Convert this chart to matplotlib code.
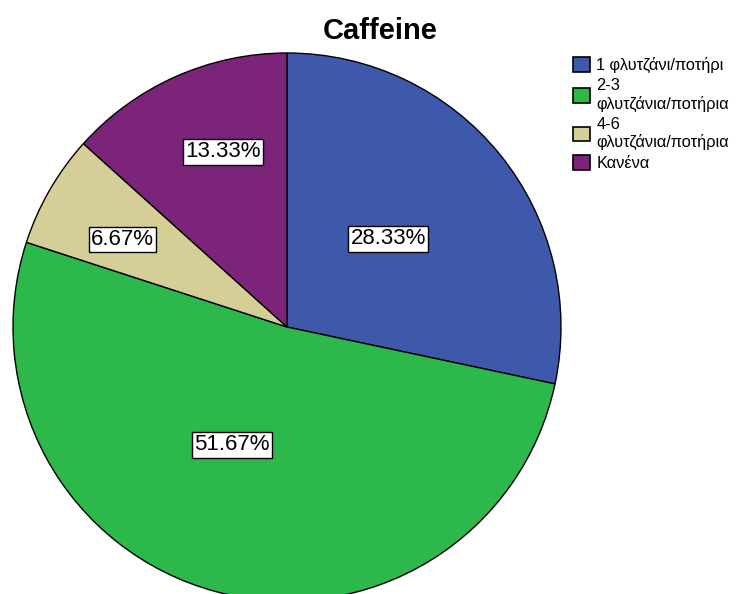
import numpy as np
import matplotlib.pyplot as plt
from matplotlib.patches import Patch

plt.rcParams['font.family'] = ['Liberation Sans', 'DejaVu Sans']

labels = ['1 φλυτζάνι/ποτήρι', '2-3\nφλυτζάνια/ποτήρια', '4-6\nφλυτζάνια/ποτήρια', 'Κανένα']
percent = [28.33, 51.67, 6.67, 13.33]
colors = ['#3e58ac', '#2db84b', '#d6ce97', '#7b2479']

# where the percent boxes sit inside each slice (radius fraction, angle nudge in degrees)
lab_r = [0.49, 0.475, 0.68, 0.68]
lab_da = [2, -10, 2, -4]

fig = plt.figure(figsize=(7.46, 5.94), dpi=100)
W, H = 746, 594
# pie centre ~ (287, 327) px, radius ~274 px
cx, cy, r = 287, 327, 274
ax = fig.add_axes([(cx - r) / W, (H - cy - r) / H, 2 * r / W, 2 * r / H])

wedges, _ = ax.pie(percent, colors=colors, startangle=90, counterclock=False,
                   radius=1, wedgeprops=dict(edgecolor='black', linewidth=1.0))
ax.set_xlim(-1, 1)
ax.set_ylim(-1, 1)
ax.set_aspect('equal')
ax.axis('off')

for w, p, rr, da in zip(wedges, percent, lab_r, lab_da):
    ang = np.deg2rad((w.theta1 + w.theta2) / 2 + da)
    ax.text(rr * np.cos(ang), rr * np.sin(ang), f'{p:.2f}%', ha='center', va='center',
            fontsize=16,
            bbox=dict(boxstyle='square,pad=0.1', facecolor='white', edgecolor='black', linewidth=1.0))

fig.text(380 / W, 1 - 31 / H, 'Caffeine', ha='center', va='center', fontsize=21, fontweight='bold')

handles = [Patch(facecolor=c, edgecolor='black', linewidth=1.2) for c in colors]
fig.legend(handles, labels, loc='upper left', bbox_to_anchor=(570 / W, 1 - 54 / H),
           frameon=False, fontsize=11.8, handlelength=1.0, handleheight=1.0,
           handletextpad=0.4, labelspacing=0.3, borderpad=0.2, borderaxespad=0)

plt.savefig('out.png', dpi=100)
